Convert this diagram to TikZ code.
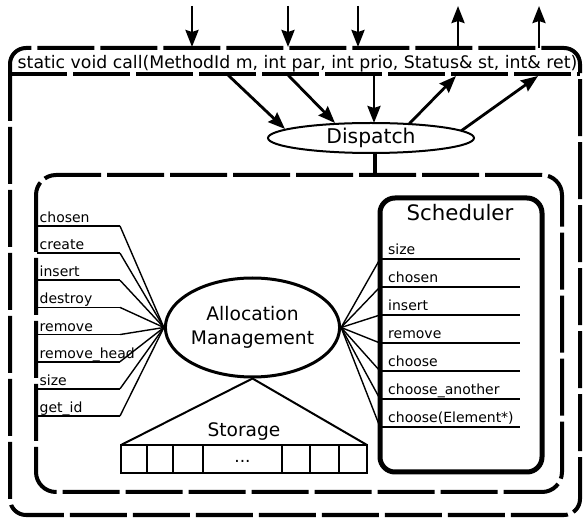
\documentclass[tikz,border=0pt]{standalone}
\usepackage{fontspec}
\setmainfont{DejaVu Sans}
\usetikzlibrary{shapes.geometric,arrows.meta}
\begin{document}
\begin{tikzpicture}[x=1pt,y=-1pt,
  bigdash/.style={line width=4pt,dash pattern=on 57pt off 6pt},
  arr/.style={line width=2.8pt,-{Stealth[length=17pt,width=13pt,inset=2pt]}},
  lbl/.style={inner sep=0pt,anchor=base west,font=\fontsize{14}{16}\selectfont},
  uline/.style={line width=1.8pt},
  wire/.style={line width=1.4pt},
]
\useasboundingbox (0,0) rectangle (584,518);
% outer box
\draw[bigdash, rounded corners=16pt] (10,48) rectangle (580,515);
\coordinate (hl) at (10,74);
\coordinate (hr) at (580,74);
\draw[line width=3.5pt,dash pattern=on 57pt off 6pt] (hl) -- (hr);
\node[inner sep=0pt,anchor=base,font=\fontsize{17.3}{20}\selectfont] (hdr) at (297.5,69) {static void call(MethodId m, int par, int prio, Status\& st, int\& ret)};
% top arrows
\foreach \x [count=\i] in {192,288,358} {
  \coordinate (ta\i) at (\x,6);
  \coordinate (tb\i) at (\x,47);
  \draw[arr] (ta\i) -- (tb\i);
}
\foreach \x [count=\i] in {458,539} {
  \coordinate (ua\i) at (\x,48);
  \coordinate (ub\i) at (\x,6);
  \draw[arr] (ua\i) -- (ub\i);
}
% dispatch
\node[ellipse,draw,line width=2pt,minimum width=206pt,minimum height=30pt,inner sep=0pt,font=\fontsize{20.3}{24}\selectfont] (disp) at (371,138) {Dispatch};
\coordinate (h1) at (228,75);
\coordinate (d1) at (285,129);
\coordinate (h2) at (288,75);
\coordinate (d2) at (335,123);
\coordinate (h3) at (374,75);
\coordinate (d3) at (374,123);
\coordinate (d4) at (409,124);
\coordinate (h4) at (456,76);
\coordinate (d5) at (461,131);
\coordinate (h5) at (538,76);
\draw[arr] (h1) -- (d1);
\draw[arr] (h2) -- (d2);
\draw[arr] (h3) -- (d3);
\draw[arr] (d4) -- (h4);
\draw[arr] (d5) -- (h5);
% inner box
\draw[bigdash, rounded corners=20pt] (36,175) rectangle (562,492);
\coordinate (ib) at (375,175);
\coordinate (it) at (375,152);
\draw[line width=4pt] (it) -- (ib);
% allocation management
\node[ellipse,draw,line width=3pt,minimum width=141pt,minimum height=99pt,inner sep=0pt,align=center,font=\fontsize{18.7}{24}\selectfont] (alloc) at (252.5,327.5) {Allocation\\Management};
% left labels
\foreach \t [count=\i from 0] in {chosen,create,insert,destroy,remove,remove\_head,size,get\_id} {
  \pgfmathsetmacro\yy{226+27.14*\i}
  \coordinate (la\i) at (37,\yy);
  \coordinate (lb\i) at (120,\yy);
  \node[lbl] (l\i) at (39.5,\yy-3.5) {\t};
  \draw[uline] (la\i) -- (lb\i);
  \draw[wire] (lb\i) -- (alloc.west);
}
% scheduler
\draw[line width=5pt, rounded corners=15pt] (380,198) rectangle (542,472);
\node[inner sep=0pt,anchor=base,font=\fontsize{21.3}{24}\selectfont] (sched) at (460,221) {Scheduler};
\foreach \t [count=\i from 0] in {size,chosen,insert,remove,choose,choose\_another,choose(Element*)} {
  \pgfmathsetmacro\yy{259+28*\i}
  \coordinate (sa\i) at (380,\yy);
  \coordinate (sb\i) at (520,\yy);
  \node[lbl] (s\i) at (388,\yy-4) {\t};
  \draw[uline] (sa\i) -- (sb\i);
  \draw[wire] (alloc.east) -- (sa\i);
}
% storage
\coordinate (stl) at (121,445);
\coordinate (str) at (367,445);
\draw[line width=2pt] (stl) -- (alloc.south) -- (str);
\node[inner sep=0pt,anchor=base,font=\fontsize{18.6}{22}\selectfont] (stor) at (244,437) {Storage};
\draw[line width=2pt] (121,445) rectangle (367,473);
\foreach \x in {147,173,203,282,310,339} {
  \draw[line width=2pt] (\x,445) -- (\x,473);
}
\node[inner sep=0pt,anchor=base,font=\fontsize{17}{20}\selectfont] (dots) at (242.5,463) {...};
\end{tikzpicture}
\end{document}
